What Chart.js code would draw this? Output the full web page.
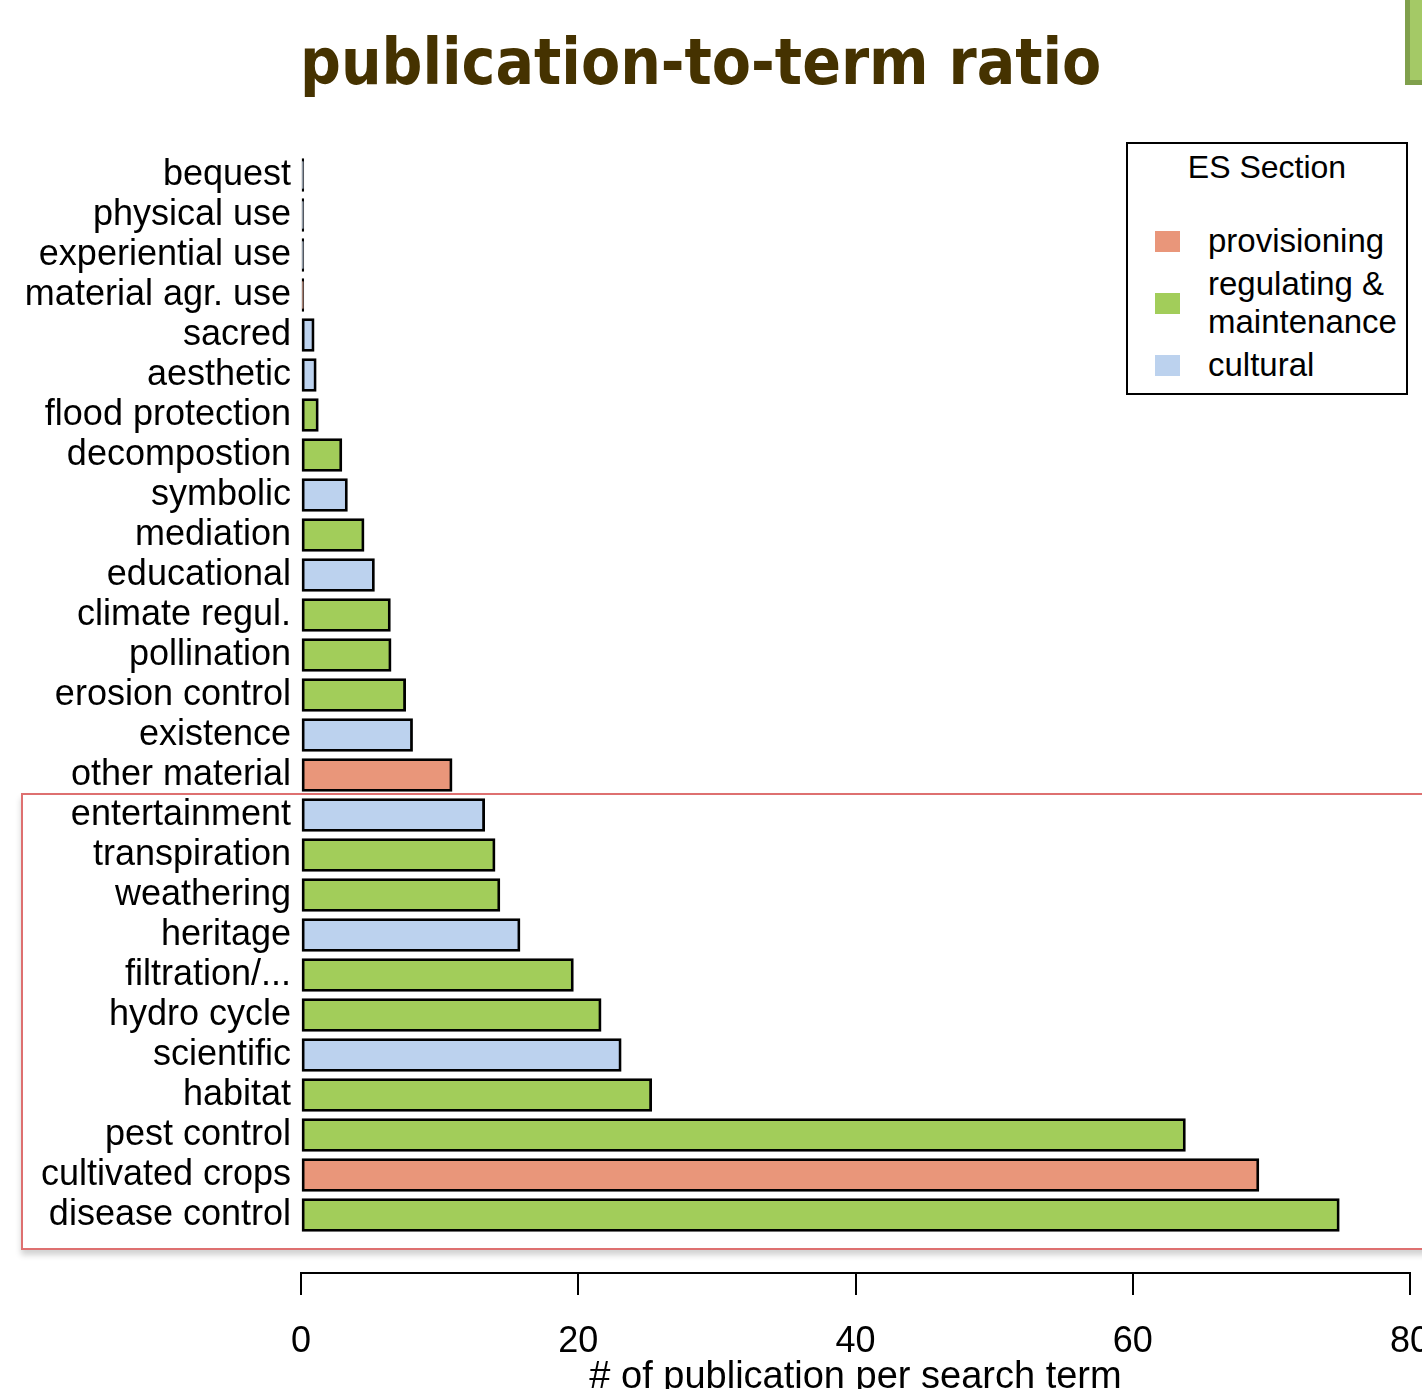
<!DOCTYPE html>
<html>
<head>
<meta charset="utf-8">
<script src="https://cdn.jsdelivr.net/npm/chart.js@4.4.1/dist/chart.umd.min.js"></script>
<style>
  html, body { margin: 0; padding: 0; background: #fff; overflow: hidden; width: 1422px; height: 1389px; }
  #wrap { position: relative; width: 1450px; height: 1420px; }
  #chart { position: absolute; left: 0; top: 0; }
  #title {
    position: absolute; left: 300px; top: 22px; width: 800px; text-align: center;
    font-family: "DejaVu Sans Condensed", "DejaVu Sans", sans-serif; font-stretch: semi-condensed;
    font-weight: bold; font-size: 63.5px; line-height: 80px; color: #453200; white-space: nowrap;
  }
  #deco {
    position: absolute; left: 1405px; top: -10px; width: 40px; height: 95px;
    background: #a4c966; border: 5px solid #80a04c; box-sizing: border-box;
  }
  #redbox {
    position: absolute; left: 21px; top: 793px; width: 1460px; height: 457px;
    border: 2px solid #de7070; box-sizing: border-box; pointer-events: none;
    box-shadow: 0 5px 6px rgba(0,0,0,0.18);
  }
  #legend {
    position: absolute; left: 1126px; top: 142px; width: 282px; height: 253px;
    border: 2px solid #000; box-sizing: border-box; background: #fff;
    font-family: "Liberation Sans", Arial, sans-serif; color: #000;
  }
  #legend .ttl { position: absolute; left: 0; right: 0; top: 5px; text-align: center; font-size: 32px; line-height: 36px; }
  #legend .rows { position: absolute; left: 27px; top: 78px; }
  #legend .row { display: flex; align-items: center; margin-bottom: 5px; }
  #legend .sw { width: 25px; height: 21px; margin-right: 28px; flex: none; }
  #legend .txt { font-size: 33px; line-height: 38px; width: 200px; }
</style>
</head>
<body>
<div id="wrap">
  <canvas id="chart" width="1450" height="1420"></canvas>
  <div id="title">publication-to-term ratio</div>
  <div id="deco"></div>
  <div id="redbox"></div>
  <div id="legend"><div class="ttl">ES Section</div><div class="rows" id="legend-rows"></div></div>
</div>
<script>
// Data (top to bottom)
const categories = [
  'bequest', 'physical use', 'experiential use', 'material agr. use', 'sacred', 'aesthetic',
  'flood protection', 'decompostion', 'symbolic', 'mediation', 'educational', 'climate regul.',
  'pollination', 'erosion control', 'existence', 'other material', 'entertainment', 'transpiration',
  'weathering', 'heritage', 'filtration/...', 'hydro cycle', 'scientific', 'habitat',
  'pest control', 'cultivated crops', 'disease control'
];
const values = [
  0.2, 0.2, 0.2, 0.2, 0.95, 1.1,
  1.25, 2.95, 3.35, 4.55, 5.3, 6.45,
  6.5, 7.55, 8.05, 10.9, 13.25, 14.0,
  14.35, 15.8, 19.65, 21.65, 23.1, 25.3,
  63.8, 69.1, 74.9
];
// 0 = provisioning, 1 = regulating & maintenance, 2 = cultural
const sections = [
  2, 2, 2, 0, 2, 2,
  1, 1, 2, 1, 2, 1,
  1, 1, 2, 0, 2, 1,
  1, 2, 1, 1, 2, 1,
  1, 0, 1
];
const sectionNames = ['provisioning', 'regulating & maintenance', 'cultural'];
const sectionColors = ['#E9967A', '#A2CD5A', '#BCD2EE'];
const xTicks = [0, 20, 40, 60, 80];

// Datasets, one per ES section
const datasets = sectionNames.map((name, k) => ({
  label: name,
  data: categories
    .map((c, i) => (sections[i] === k ? { x: values[i], y: i } : null))
    .filter(Boolean),
  backgroundColor: sectionColors[k],
  borderColor: '#000',
  borderWidth: 2.8,
  borderSkipped: false,
  barThickness: 33,
  grouped: false
}));

const fontFamily = '"Liberation Sans", Arial, sans-serif';

new Chart(document.getElementById('chart'), {
  type: 'bar',
  data: { datasets },
  options: {
    responsive: false,
    animation: false,
    indexAxis: 'y',
    layout: { padding: { top: 155, right: 40, left: 0, bottom: 0 } },
    plugins: { legend: { display: false }, title: { display: false } },
    scales: {
      y: {
        type: 'linear',
        reverse: true,
        offset: false,
        min: -0.5,
        max: 27.45,
        afterBuildTicks: (scale) => { scale.ticks = categories.map((c, i) => ({ value: i })); },
        afterFit: (scale) => { scale.width = 301; },
        grid: { display: false, drawTicks: false, offset: false },
        border: { display: false },
        ticks: {
          autoSkip: false,
          padding: 10,
          color: '#000',
          font: { family: fontFamily, size: 36 },
          callback: (v) => categories[v] ?? ''
        }
      },
      x: {
        type: 'linear',
        min: 0,
        max: 80,
        afterBuildTicks: (scale) => { scale.ticks = xTicks.map(v => ({ value: v })); },
        afterFit: (scale) => {
          scale.height = 147;
          scale.paddingLeft = 0;
          scale.paddingRight = 0;
        },
        grid: { display: true, drawOnChartArea: false, drawTicks: true, tickLength: 22, color: '#000', lineWidth: 2 },
        border: { display: true, color: '#000', width: 2 },
        ticks: { padding: 25, color: '#000', font: { family: fontFamily, size: 36 }, maxRotation: 0 },
        title: {
          display: true,
          text: '# of publication per search term',
          color: '#000',
          font: { family: fontFamily, size: 38 },
          padding: { top: 20, bottom: 20 }
        }
      }
    }
  }
});

// Legend
document.getElementById('legend-rows').innerHTML = sectionNames
  .map((name, k) => `
    <div class="row">
      <div class="sw" style="background:${sectionColors[k]}"></div>
      <div class="txt">${name.replace('&', '&amp;')}</div>
    </div>
  `)
  .join('');
</script>
</body>
</html>
